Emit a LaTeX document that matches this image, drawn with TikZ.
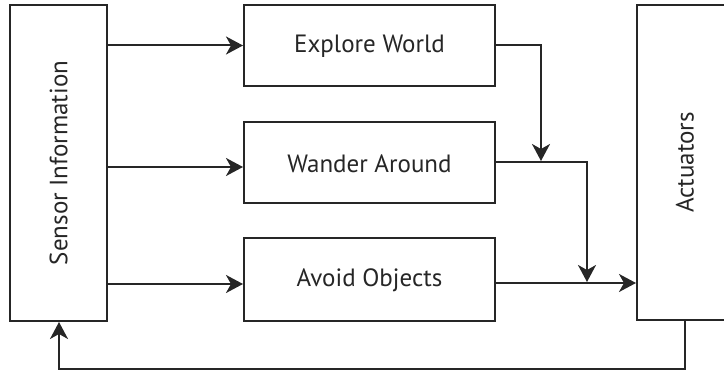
\documentclass[tikz,border=0pt]{standalone}
\usepackage{fontspec}
\setmainfont{PT Sans}
\usetikzlibrary{arrows.meta,calc}
\begin{document}
\begin{tikzpicture}[x=1pt,y=-1pt,
  block/.style={draw=black!85, line width=2pt, rectangle, inner sep=0pt},
  lbl/.style={font=\fontsize{25}{30}\selectfont, text=black!85, inner sep=0pt},
  arr/.style={draw=black!85, line width=2pt,
    -{Stealth[length=17pt, width=18pt, inset=5pt]}},
  wire/.style={draw=black!85, line width=2pt}]
  \useasboundingbox (0,0) rectangle (724,371);

  % blocks
  \node[block, minimum width=97pt,  minimum height=316pt] (sensor)    at (58.5,163)  {};
  \node[block, minimum width=251pt, minimum height=81pt]  (explore)   at (369.5,45.5) {};
  \node[block, minimum width=251pt, minimum height=81pt]  (wander)    at (369.5,162.5) {};
  \node[block, minimum width=251pt, minimum height=83pt]  (avoid)     at (369.5,279.5) {};
  \node[block, minimum width=96pt,  minimum height=315pt] (actuators) at (685,162.5) {};

  % labels
  \node[lbl, rotate=90] (sensortext)    at (sensor.center)    {Sensor Information};
  \node[lbl]            (exploretext)   at ([yshift=-1pt]explore.center) {Explore World};
  \node[lbl]            (wandertext)    at ([yshift=-1pt]wander.center)  {Wander Around};
  \node[lbl]            (avoidtext)     at ([yshift=-1pt]avoid.center)   {Avoid Objects};
  \node[lbl, rotate=90] (actuatorstext) at (actuators.center) {Actuators};

  % junction points
  \coordinate (jexplore) at (541,45);
  \coordinate (jwander)  at (587,162);
  \coordinate (jfeed)    at (685,369);
  \coordinate (jback)    at (59,369);

  % sensor to behaviours
  \draw[arr] (sensor.east |- explore.west) -- (explore.west);
  \draw[arr] ($(sensor.east |- wander.west)+(0,4.5)$) -- ($(wander.west)+(0,4.5)$);
  \draw[arr] ($(sensor.east |- avoid.west)+(0,4.5)$) -- ($(avoid.west)+(0,4.5)$);

  % behaviours merging into the actuators
  \draw[arr] (explore.east |- jexplore) -- (jexplore) -- ($(jexplore |- jwander)+(0,-1)$);
  \draw[arr] (wander.east |- jwander) -- (jwander) -- ($(jwander)+(0,120)$);
  \draw[arr] ($(avoid.east)+(0,3.5)$) -- ($(actuators.west |- avoid.east)+(0,3.5)$);

  % feedback loop
  \draw[arr] (actuators.south -| jfeed) -- (jfeed) -- (jback) -- (sensor.south -| jback);
\end{tikzpicture}
\end{document}
